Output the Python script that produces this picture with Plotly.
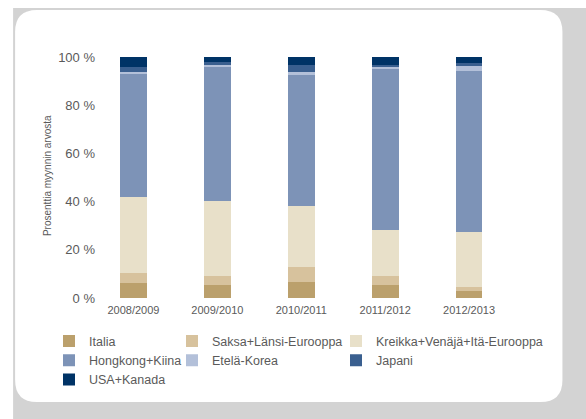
import plotly.graph_objects as go

# ---- data (percent of sales value) ----
years = ["2008/2009", "2009/2010", "2010/2011", "2011/2012", "2012/2013"]
italia = [6.2, 5.4, 6.8, 5.4, 3.0]
saksa = [4.2, 3.7, 5.9, 3.7, 1.7]
kreikka = [31.5, 31.1, 25.3, 19.1, 22.8]
hongkong = [51.1, 55.7, 54.8, 66.8, 66.8]
korea = [0.8, 0.8, 0.8, 0.9, 2.1]
japani = [2.1, 1.2, 2.9, 0.9, 1.2]
usa = [4.1, 2.1, 3.5, 3.2, 2.4]

series_names = ["Italia", "Saksa+Länsi-Eurooppa", "Kreikka+Venäjä+Itä-Eurooppa",
                "Hongkong+Kiina", "Etelä-Korea", "Japani", "USA+Kanada"]
series_values = [italia, saksa, kreikka, hongkong, korea, japani, usa]
series_colors = ["#bba06c", "#d7c29d", "#e8e0c9", "#7d93b7", "#b3c0d9", "#3a5f8f", "#003366"]
series_legend = ["legend", "legend2", "legend3", "legend", "legend2", "legend3", "legend"]

y_ticks = [0, 20, 40, 60, 80, 100]
y_ticktext = ["0 %", "20 %", "40 %", "60 %", "80 %", "100 %"]
y_title = "Prosenttia myynnin arvosta"

# ---- layout geometry ----
W_PX, H_PX = 586, 419
L, T = 100, 57
PW, PH = 411.5, 241
R = W_PX - L - PW
B = H_PX - T - PH

def px_x(px):
    return (px - L) / PW

def px_y(py):
    return (T + PH - py) / PH

fig = go.Figure()
for name, vals, col, lg in zip(series_names, series_values, series_colors, series_legend):
    fig.add_trace(go.Bar(x=years, y=vals, name=name, marker=dict(color=col, line=dict(width=0)),
                         legend=lg))

font_fam = "Liberation Sans, Arial, sans-serif"
txt_col = "#5a5a5a"

# rounded white panel on grey frame
x0, x1, y0, y1, r = 15, 563, 10, 402, 22
path = (f"M {px_x(x0+r)},{px_y(y0)} L {px_x(x1-r)},{px_y(y0)} "
        f"Q {px_x(x1)},{px_y(y0)} {px_x(x1)},{px_y(y0+r)} "
        f"L {px_x(x1)},{px_y(y1-r)} Q {px_x(x1)},{px_y(y1)} {px_x(x1-r)},{px_y(y1)} "
        f"L {px_x(x0+r)},{px_y(y1)} Q {px_x(x0)},{px_y(y1)} {px_x(x0)},{px_y(y1-r)} "
        f"L {px_x(x0)},{px_y(y0+r)} Q {px_x(x0)},{px_y(y0)} {px_x(x0+r)},{px_y(y0)} Z")

shapes = [
    dict(type="rect", xref="paper", yref="paper", x0=px_x(13), x1=px_x(600), y0=px_y(8), y1=px_y(430),
         fillcolor="#d3d3d3", line=dict(width=0), layer="below"),
    dict(type="path", xref="paper", yref="paper", path=path, fillcolor="white",
         line=dict(width=0), layer="below"),
]

leg_common = dict(orientation="v", xref="container", yref="container", xanchor="left", yanchor="top",
                  bgcolor="rgba(0,0,0,0)", font=dict(family=font_fam, size=12.5, color=txt_col),
                  itemclick=False, itemdoubleclick=False, tracegroupgap=0, traceorder="normal")
legend_top = 1 - 326.4 / H_PX

fig.update_layout(
    width=W_PX, height=H_PX,
    margin=dict(l=L, r=R, t=T, b=B, autoexpand=False),
    paper_bgcolor="white", plot_bgcolor="rgba(0,0,0,0)",
    barmode="stack", bargap=0.68,
    shapes=shapes,
    font=dict(family=font_fam, color=txt_col),
    legend=dict(x=49 / W_PX, y=legend_top, **leg_common),
    legend2=dict(x=172 / W_PX, y=legend_top, **leg_common),
    legend3=dict(x=336 / W_PX, y=legend_top, **leg_common),
    xaxis=dict(range=[-0.399, 4.5], showline=False, showgrid=False, zeroline=False,
               tickfont=dict(size=11, color=txt_col), ticks="", ticklabelstandoff=4),
    yaxis=dict(range=[0, 100], tickvals=y_ticks, ticktext=y_ticktext, showline=False,
               showgrid=False, zeroline=False, ticks="", ticklabelstandoff=4,
               tickfont=dict(size=13, color=txt_col)),
    annotations=[dict(text=y_title, xref="paper", yref="paper", x=px_x(47), y=px_y(176),
                      textangle=-90, showarrow=False, xanchor="center", yanchor="middle",
                      font=dict(family=font_fam, size=10, color=txt_col))],
)

fig.write_html("out.html", config={"displayModeBar": False},
               post_script="document.body.style.margin='0';")
